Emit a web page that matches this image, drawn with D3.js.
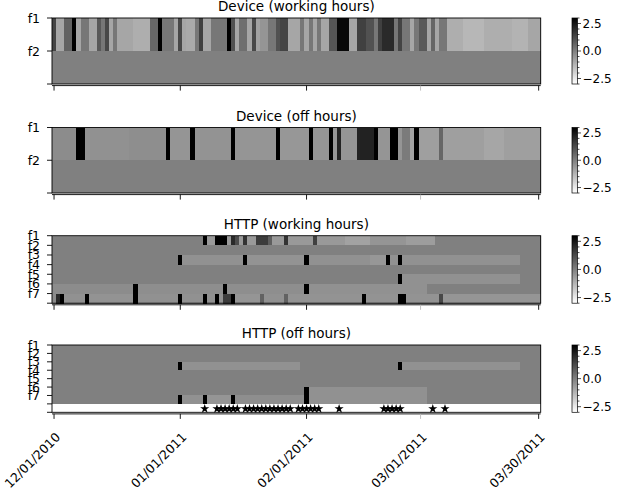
<!DOCTYPE html>
<html><head><meta charset="utf-8">
<script src="https://cdn.jsdelivr.net/npm/d3@7"></script>
<style>body{margin:0;background:#fff} svg{display:block} text{font-family:"DejaVu Sans",sans-serif;fill:#000}</style>
</head><body><svg id="c" width="622" height="488"></svg>
<script>
// ---------- data (runs: [firstDayIndex, lastDayIndex, value], day 0 = 2010-12-01) ----------
const startDay = "2010-12-01";
const nDays = 120;
const tickDates = ["2010-12-01","2011-01-01","2011-02-01","2011-03-01","2011-03-30"];
const tickLabels = ["12/01/2010","01/01/2011","02/01/2011","03/01/2011","03/30/2011"];
const titles = ["Device (working hours)","Device (off hours)","HTTP (working hours)","HTTP (off hours)"];
const deviceLabels = ["f1","f2"];
const httpLabels = ["f1","f2","f3","f4","f5","f6","f7"];
const cbTicks = [2.5, 0.0, -2.5];

const devWorkF1 = [[0,0,1.4],[1,2,-0.9],[3,4,0.7],[5,5,3.5],[6,6,-0.9],[7,8,0.2],[9,10,-0.9],[11,11,0.9],[12,12,0.2],[13,13,1.3],[14,14,-0.9],[15,15,0.2],[16,19,-0.9],[20,23,-1.1],[24,25,0.6],[26,26,3.5],[27,29,0.2],[30,30,-0.9],[31,31,1.3],[32,32,-0.9],[33,34,-1.0],[35,35,0.2],[36,36,1.5],[37,38,-0.9],[39,42,0.2],[43,43,3.5],[44,44,1.1],[45,45,-0.9],[46,47,0.4],[48,48,-0.9],[49,49,1.3],[50,50,-0.8],[51,52,-0.5],[53,54,0.2],[55,55,1.1],[56,57,1.4],[58,60,-0.9],[61,61,0.2],[62,62,-0.9],[63,63,0.2],[64,64,-0.9],[65,65,0.2],[66,67,-0.9],[68,69,1.0],[70,72,2.8],[73,74,-0.9],[75,76,1.5],[77,78,1.1],[79,79,0.2],[80,80,1.5],[81,83,2.0],[84,84,0.2],[85,85,1.4],[86,87,0.2],[88,88,-0.9],[89,89,0.2],[90,91,0.9],[92,92,-0.9],[93,93,0.6],[94,94,-0.9],[95,96,0.2],[97,100,-1.1],[101,105,-1.3],[106,112,-1.1],[113,116,-1.2],[117,119,-0.9]];
const devWorkF2 = [[0,119,0]];
const devOffF1 = [[0,5,-0.3],[6,7,3.5],[8,18,-0.4],[19,27,-0.35],[28,28,3.5],[29,33,-0.5],[34,34,3.5],[35,43,-0.45],[44,44,3.5],[45,54,-0.5],[55,55,3.5],[56,62,-0.55],[63,63,3.5],[64,67,-0.5],[68,68,3.5],[69,69,-0.5],[70,70,2.2],[71,74,-0.5],[75,78,2.2],[79,79,3.5],[80,82,-0.5],[83,84,3.5],[85,85,-0.5],[86,87,0.1],[88,88,-0.8],[89,89,3.5],[90,94,-0.75],[95,95,0.6],[96,105,-0.75],[106,110,-0.9],[111,119,-0.75]];
const devOffF2 = [[0,119,0]];

const httpWorkF1 = [[0,36,0],[37,37,3.5],[38,39,-0.6],[40,42,3.5],[43,43,-0.6],[44,44,2.0],[45,45,1.2],[46,46,-0.6],[47,47,1.8],[48,49,-0.6],[50,52,1.6],[53,53,0.8],[54,56,-0.6],[57,57,1.8],[58,63,-0.6],[64,64,1.5],[65,71,-0.6],[72,77,-0.8],[78,86,-0.5],[87,93,-0.7],[94,119,0]];
const httpWorkF2 = [[0,119,0]];
const httpWorkF3 = [[0,30,0],[31,31,3.5],[32,46,-0.4],[47,47,3.5],[48,61,-0.45],[62,62,3.5],[63,77,-0.4],[78,81,-0.55],[82,82,3.5],[83,84,-0.4],[85,85,3.5],[86,114,-0.4],[115,119,0]];
const httpWorkF4 = [[0,119,0]];
const httpWorkF5 = [[0,84,0],[85,85,3.5],[86,114,-0.4],[115,119,0]];
const httpWorkF6 = [[0,19,-0.3],[20,20,3.5],[21,41,-0.35],[42,42,3.5],[43,61,-0.35],[62,62,3.5],[63,91,-0.4],[92,119,0]];
const httpWorkF7 = [[0,0,-0.3],[1,1,2.0],[2,2,3.5],[3,7,-0.4],[8,8,3.5],[9,19,-0.45],[20,20,3.5],[21,30,-0.4],[31,31,3.5],[32,36,-0.4],[37,37,3.5],[38,39,-0.4],[40,40,3.5],[41,41,-0.4],[42,43,1.6],[44,44,3.5],[45,50,-0.5],[51,51,0.7],[52,56,-0.4],[57,57,0.7],[58,75,-0.45],[76,76,3.5],[77,84,-0.45],[85,86,3.5],[87,94,-0.45],[95,95,1.3],[96,119,-0.5]];

const httpOffF1 = [[0,119,0]];
const httpOffF2 = [[0,119,0]];
const httpOffF3 = [[0,30,0],[31,31,3.5],[32,60,-0.4],[61,84,0],[85,85,3.5],[86,114,-0.4],[115,119,0]];
const httpOffF4 = [[0,119,0]];
const httpOffF5 = [[0,119,0]];
const httpOffF6 = [[0,61,0],[62,62,3.5],[63,91,-0.4],[92,119,0]];
const httpOffF7 = [[0,30,0],[31,31,3.5],[32,36,-0.4],[37,37,3.5],[38,43,-0.5],[44,44,3.5],[45,61,-0.35],[62,62,3.5],[63,91,-0.4],[92,119,0]];

// starred days (day index) in the extra row of the last panel
const starDays = [37,40,41,42,43,44,45,47,48,49,50,51,52,53,54,55,56,57,58,60,61,62,63,64,65,70,81,82,83,84,85,93,96];

// ---------- layout ----------
const svg = d3.select("#c");
const parse = d3.timeParse("%Y-%m-%d");
const t0 = parse(startDay);
const L = 52, R = 540.7;
const x = d3.scaleTime()
  .domain([d3.timeHour.offset(t0, -12), d3.timeHour.offset(d3.timeDay.offset(t0, nDays - 1), 12)])
  .range([L, R]);
const color = v => { const t = Math.max(0, Math.min(1, (v + 3) / 6)); const g = Math.round(255 * (1 - t)); return `rgb(${g},${g},${g})`; };

const panels = [
  {title: titles[0], labels: deviceLabels, rows: [devWorkF1, devWorkF2], extra: 0, top: 18, h: 66},
  {title: titles[1], labels: deviceLabels, rows: [devOffF1, devOffF2], extra: 0, top: 127.5, h: 65.5},
  {title: titles[2], labels: httpLabels, rows: [httpWorkF1,httpWorkF2,httpWorkF3,httpWorkF4,httpWorkF5,httpWorkF6,httpWorkF7], extra: 0, top: 235.7, h: 67.5},
  {title: titles[3], labels: httpLabels, rows: [httpOffF1,httpOffF2,httpOffF3,httpOffF4,httpOffF5,httpOffF6,httpOffF7], extra: 1, top: 345, h: 67.3}
];

const cbX = 572, cbW = 5.5;
const grad = svg.append("defs").append("linearGradient").attr("id","cbg").attr("x1",0).attr("y1",1).attr("x2",0).attr("y2",0);
d3.range(0, 1.0001, 0.1).forEach(t => grad.append("stop").attr("offset", t).attr("stop-color", color(-3 + 6 * t)));

panels.forEach((p, pi) => {
  const nRows = p.rows.length + p.extra;
  const y = d3.scaleLinear().domain([0, nRows]).range([p.top, p.top + p.h]);
  const g = svg.append("g");
  g.append("rect").attr("x", L).attr("y", p.top).attr("width", R - L).attr("height", p.h).attr("fill", "#fff");
  p.rows.forEach((runs, ri) => {
    g.selectAll(null).data(runs).enter().append("rect")
      .attr("x", d => x(d3.timeHour.offset(d3.timeDay.offset(t0, d[0]), -12)))
      .attr("width", d => x(d3.timeHour.offset(d3.timeDay.offset(t0, d[1]), 12)) - x(d3.timeHour.offset(d3.timeDay.offset(t0, d[0]), -12)) + 0.3)
      .attr("y", y(ri)).attr("height", y(ri + 1) - y(ri) + 0.3)
      .attr("fill", d => color(d[2]))
      .attr("shape-rendering", "crispEdges");
  });
  if (p.extra) {
    const sym = d3.symbol().type(d3.symbolStar).size(26);
    g.selectAll(null).data(starDays).enter().append("path")
      .attr("d", sym)
      .attr("transform", d => `translate(${x(d3.timeDay.offset(t0, d))},${(y(nRows - 1) + y(nRows)) / 2 + 0.7})`)
      .attr("fill", "#000");
  }
  g.append("rect").attr("x", L).attr("y", p.top).attr("width", R - L).attr("height", p.h)
    .attr("fill", "none").attr("stroke", "#000").attr("stroke-width", 0.9);
  const yt = d3.range(0, nRows + 1);
  g.selectAll(null).data(yt).enter().append("line")
    .attr("x1", L - 5).attr("x2", L).attr("y1", d => y(d)).attr("y2", d => y(d))
    .attr("stroke", "#000").attr("stroke-width", 0.9);
  g.selectAll(null).data(p.labels).enter().append("text")
    .attr("x", L - 12).attr("y", (d, i) => y(i)).attr("dy", "0.36em")
    .attr("text-anchor", "end").attr("font-size", 12.5).text(d => d);
  g.append("text").attr("x", (L + R) / 2).attr("y", p.top - 7).attr("text-anchor", "middle")
    .attr("font-size", 13.5).text(p.title);
  const ay = p.top + p.h + 1.6;
  g.append("line").attr("x1", L).attr("x2", R).attr("y1", ay).attr("y2", ay).attr("stroke", "#000").attr("stroke-width", 0.9);
  g.selectAll(null).data(tickDates).enter().append("line")
    .attr("x1", d => x(parse(d))).attr("x2", d => x(parse(d)))
    .attr("y1", ay).attr("y2", ay + 5)
    .attr("stroke", (d, i) => i === 3 ? "#bbb" : "#000").attr("stroke-width", 0.9);
  if (pi === panels.length - 1) {
    g.selectAll(null).data(tickDates).enter().append("text")
      .attr("transform", d => `translate(${x(parse(d)) + 7},${ay + 24}) rotate(-45)`)
      .attr("text-anchor", "end").attr("font-size", 12.5)
      .text((d, i) => tickLabels[i]);
  }
  const cy = d3.scaleLinear().domain([-3, 3]).range([p.top + p.h, p.top]);
  g.append("rect").attr("x", cbX).attr("y", p.top).attr("width", cbW).attr("height", p.h).attr("fill", "url(#cbg)")
    .attr("stroke", "#000").attr("stroke-width", 0.7);
  g.selectAll(null).data(d3.range(-3, 3.01, 0.5)).enter().append("line")
    .attr("x1", cbX + cbW).attr("x2", d => cbX + cbW + (Math.abs(d % 2.5) < 1e-6 ? 3.5 : 2))
    .attr("y1", d => cy(d)).attr("y2", d => cy(d)).attr("stroke", "#000").attr("stroke-width", 0.7);
  g.selectAll(null).data(cbTicks).enter().append("text")
    .attr("x", cbX + cbW + 5).attr("y", d => cy(d)).attr("dy", "0.36em").attr("font-size", 12)
    .text(d => d3.format(".1f")(d).replace("-", "\u2212"));
});
</script></body></html>
